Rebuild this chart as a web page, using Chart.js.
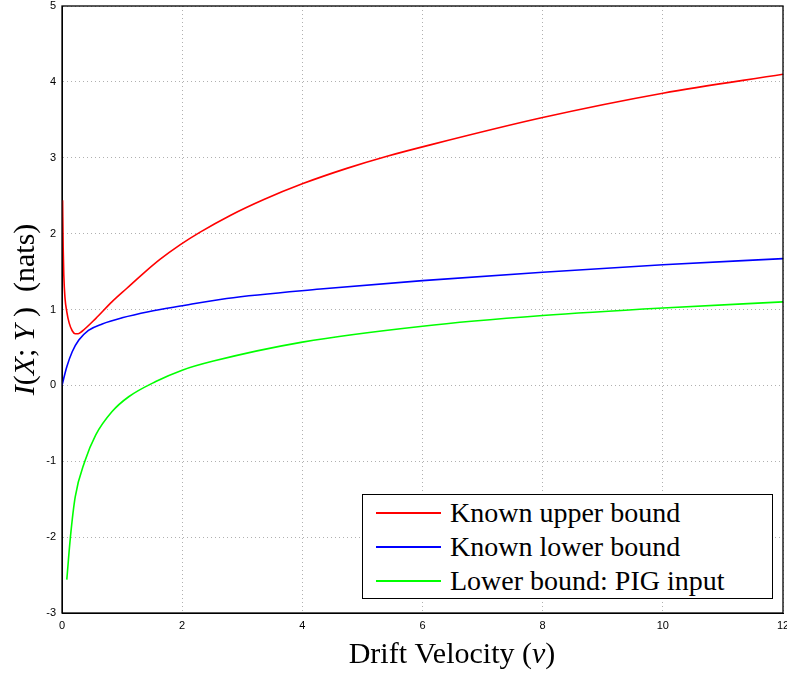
<!DOCTYPE html>
<html>
<head>
<meta charset="utf-8">
<script src="https://cdn.jsdelivr.net/npm/chart.js@4/dist/chart.umd.min.js"></script>
<style>
  body { margin: 0; background: #fff; }
  #wrap { position: relative; width: 787px; height: 675px; }
  #legend {
    position: absolute; left: 362px; top: 494px; width: 409px; height: 103px;
    border: 1px solid #000; background: #fff;
    font-family: "Liberation Serif", serif; font-size: 28px; color: #000;
  }
  .row { height: 33px; line-height: 33px; display: flex; align-items: center; margin-top: 1px; }
  .swatch { width: 65px; height: 2px; margin-left: 13px; margin-right: 9px; }
</style>
</head>
<body>
<div id="wrap">
  <canvas id="chart" width="787" height="675"></canvas>
  <div id="legend"></div>
</div>
<script>
// Known upper bound
const upperX = [0.01, 0.02, 0.03, 0.05, 0.08, 0.12, 0.17, 0.22, 0.27, 0.33, 0.56, 0.83, 1.08, 1.36, 1.63, 1.97, 2.3, 2.8, 3.36, 4.01, 4.74, 5.41, 6.13, 8, 10, 12];
const upperY = [2.44, 1.8, 1.45, 1.15, 0.97, 0.82, 0.72, 0.68, 0.68, 0.71, 0.88, 1.1, 1.28, 1.48, 1.66, 1.855, 2.02, 2.24, 2.45, 2.66, 2.86, 3.02, 3.17, 3.53, 3.85, 4.1];
// Known lower bound
const lowerX = [0, 0.08, 0.17, 0.28, 0.44, 0.67, 1.0, 1.44, 1.97, 2.74, 4.3, 6, 8, 10, 12];
const lowerY = [0, 0.245, 0.443, 0.597, 0.725, 0.81, 0.89, 0.97, 1.045, 1.146, 1.27, 1.38, 1.49, 1.59, 1.67];
// Lower bound: PIG input
const pigX = [0.08, 0.14, 0.22, 0.38, 0.56, 0.83, 1.11, 1.56, 2.0, 2.52, 4, 6, 8, 10, 12];
const pigY = [-2.56, -2.0, -1.47, -1.0, -0.655, -0.348, -0.15, 0.05, 0.2, 0.32, 0.57, 0.78, 0.92, 1.02, 1.1];

const xTicks = [0, 2, 4, 6, 8, 10, 12];
const yTicks = [-3, -2, -1, 0, 1, 2, 3, 4, 5];

const labels = ["Known upper bound", "Known lower bound", "Lower bound: PIG input"];
const colors = ["#ff0000", "#0000ff", "#00ff00"];

// axis titles, [text, italic]
const xTitle = [["Drift Velocity (", false], ["v", true], [")", false]];
const yTitle = [["I", true], ["(", false], ["X", true], ["; ", false], ["Y", true], [" )  (nats)", false]];

function pts(xs, ys) {
  return xs.map((x, i) => ({ x: x, y: ys[i] }));
}

const series = [pts(upperX, upperY), pts(lowerX, lowerY), pts(pigX, pigY)];

function drawParts(c, parts, size) {
  const fonts = parts.map(p => (p[1] ? 'italic ' : '') + size + 'px "Liberation Serif"');
  let w = 0;
  parts.forEach((p, i) => { c.font = fonts[i]; w += c.measureText(p[0]).width; });
  let x = -w / 2;
  parts.forEach((p, i) => { c.font = fonts[i]; c.fillText(p[0], x, 0); x += c.measureText(p[0]).width; });
}

// black box round the plot and the axis titles
const frame = {
  id: 'frame',
  afterDraw(chart) {
    const a = chart.chartArea, c = chart.ctx;
    c.save();
    c.strokeStyle = '#000';
    c.lineWidth = 1.3;
    c.strokeRect(a.left, a.top, a.right - a.left, a.bottom - a.top);
    c.fillStyle = '#000';
    c.textBaseline = 'alphabetic';
    c.save();
    c.translate(452, 663);
    drawParts(c, xTitle, 30);
    c.restore();
    c.save();
    c.translate(34, (a.top + a.bottom) / 2);
    c.rotate(-Math.PI / 2);
    drawParts(c, yTitle, 30);
    c.restore();
    c.restore();
  }
};

new Chart(document.getElementById("chart"), {
  type: 'scatter',
  data: {
    datasets: series.map((d, i) => ({
      label: labels[i],
      data: d,
      showLine: true,
      borderColor: colors[i],
      backgroundColor: colors[i],
      borderWidth: 1.6,
      pointRadius: 0,
      cubicInterpolationMode: 'monotone'
    }))
  },
  options: {
    responsive: false,
    animation: false,
    layout: { padding: { top: 6, right: 4, left: 0, bottom: 0 } },
    plugins: { legend: { display: false }, tooltip: { enabled: false } },
    scales: {
      x: {
        type: 'linear', min: 0, max: 12,
        afterBuildTicks: s => { s.ticks = xTicks.map(v => ({ value: v })); },
        afterFit: s => { s.height = 62; s.paddingLeft = 0; s.paddingRight = 0; },
        grid: { color: '#b0b0b0', tickLength: 0, drawTicks: false },
        border: { color: '#000', dash: [1, 3] },
        ticks: { color: '#000', padding: 6, font: { family: "Liberation Sans", size: 11 } }
      },
      y: {
        type: 'linear', min: -3, max: 5,
        afterBuildTicks: s => { s.ticks = yTicks.map(v => ({ value: v })); },
        afterFit: s => { s.width = 62; s.paddingTop = 0; s.paddingBottom = 0; },
        grid: { color: '#b0b0b0', tickLength: 0, drawTicks: false },
        border: { color: '#000', dash: [1, 3] },
        ticks: { color: '#000', padding: 6, font: { family: "Liberation Sans", size: 11 } }
      }
    }
  },
  plugins: [frame]
});

const legend = document.getElementById("legend");
labels.forEach((t, i) => {
  const row = document.createElement("div");
  row.className = "row";
  const sw = document.createElement("span");
  sw.className = "swatch";
  sw.style.background = colors[i];
  const tx = document.createElement("span");
  tx.textContent = t;
  row.appendChild(sw);
  row.appendChild(tx);
  legend.appendChild(row);
});
</script>
</body>
</html>
